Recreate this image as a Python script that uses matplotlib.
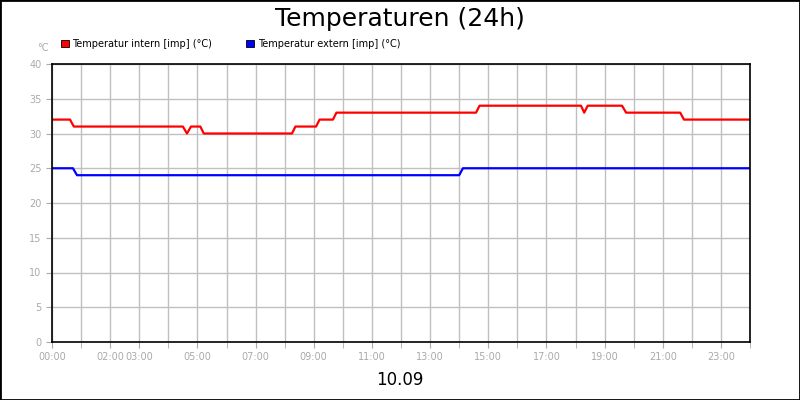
import matplotlib.pyplot as plt
from matplotlib.patches import Rectangle, Patch

# hours / values
red_t = [0, 0.62, 0.75, 4.5, 4.64, 4.78, 5.1, 5.22, 8.25, 8.37, 9.08, 9.2, 9.66, 9.78, 14.58, 14.7, 18.19, 18.3, 18.42, 19.6, 19.74, 21.6, 21.73, 24]
red_v = [32, 32, 31, 31, 30, 31, 31, 30, 30, 31, 31, 32, 32, 33, 33, 34, 34, 33, 34, 34, 33, 33, 32, 32]
blue_t = [0, 0.72, 0.86, 14.0, 14.13, 24]
blue_v = [25, 25, 24, 24, 25, 25]
tick_hours = [0, 2, 3, 5, 7, 9, 11, 13, 15, 17, 19, 21, 23]
tick_labels = ['%02d:00' % h for h in tick_hours]
names = ['Temperatur intern [imp] (°C)', 'Temperatur extern [imp] (°C)']

fig = plt.figure(figsize=(8, 4), dpi=100)
fig.patches.append(Rectangle((0, 0), 1, 1, transform=fig.transFigure, fill=False,
                             edgecolor='black', linewidth=2))
ax = fig.add_axes([0.065, 0.145, 0.8725, 0.695])
ax.plot(red_t, red_v, color='#ff0000', lw=1.6)
ax.plot(blue_t, blue_v, color='#0000ff', lw=1.6)
ax.set_xlim(0, 24)
ax.set_ylim(0, 40)
ax.set_xticks(range(25), minor=True)
ax.set_xticks(tick_hours)
ax.set_xticklabels(tick_labels)
ax.set_yticks(range(0, 41, 5))
ax.grid(True, which='both', color='#c0c0c0', lw=1)
ax.set_axisbelow(True)
ax.tick_params(which='both', colors='#aaaaaa', labelcolor='#aaaaaa', labelsize=7, length=4)
for s in ax.spines.values():
    s.set_linewidth(1.2)

fig.text(0.5, 0.952, 'Temperaturen (24h)', ha='center', va='center', fontsize=18)
fig.text(0.5, 0.05, '10.09', ha='center', va='center', fontsize=12)
fig.text(0.046, 0.88, '°C', ha='left', va='center', fontsize=7, color='#aaaaaa')
handles = [Patch(facecolor='#ff0000', edgecolor='black', lw=0.6),
           Patch(facecolor='#0000ff', edgecolor='black', lw=0.6)]
fig.legend(handles, names, loc='upper left', bbox_to_anchor=(0.065, 0.925), ncol=2, frameon=False,
           fontsize=7, handlelength=0.8, handleheight=0.8, columnspacing=3.5, handletextpad=0.4)

fig.savefig('out.png')
